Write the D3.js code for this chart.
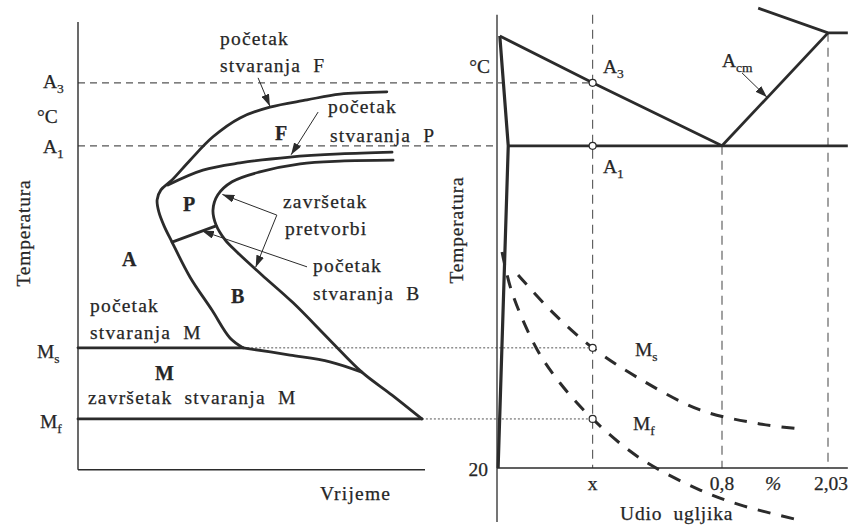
<!DOCTYPE html>
<html>
<head>
<meta charset="utf-8">
<script src="https://cdn.jsdelivr.net/npm/d3@7"></script>
<style>
  body { margin: 0; background: #fff; }
  svg text { font-family: "Liberation Serif", "Times New Roman", serif; fill: #262626; white-space: pre; stroke: #262626; stroke-width: 0.25; }
</style>
</head>
<body>
<div id="plot"><svg width="848" height="528"></svg></div>
<script>
// Critical temperatures (schematic temperature units 0-100) and carbon content of alloy x
const levelNames = ["A3", "A1", "Ms", "Mf"];
const levelTemps = [85.6, 71.6, 26.7, 10.9];
const alloyCarbon = 0.34;

// Left: TTT diagram, points as [time, temperature]
const startFerrite = [[89, 83.6], [75.5, 83.1], [66, 81.8], [55.3, 80.2], [46.7, 77.8], [38.9, 73.6],
  [32.3, 68.4], [27.1, 64], [23.9, 61.8], [22.8, 59.6], [23.3, 56.9], [24.8, 53.8], [27.1, 50.2],
  [32.3, 42.4], [38.6, 35.1], [43.8, 28.9], [47.6, 26.7]];
const startPearlite = [[25.9, 62.9], [36, 66.2], [46.7, 67.8], [61.1, 69.1], [75.5, 69.8], [90.5, 70.2]];
const endTransform = [[90.8, 68.4], [75.5, 68.2], [64, 67.6], [52.4, 65.8], [44.4, 63.6], [40.3, 60.7],
  [38.9, 57.3], [39.8, 54], [42.4, 50.7], [45.8, 48], [53, 42.9], [62, 36.7], [72.6, 28.4],
  [81.8, 21.3], [90.5, 16.2], [99.1, 10.9]];
const msBend = [[47.6, 26.7], [61.1, 25.1], [72.6, 23.6], [81.8, 21.3]];
const pearliteBainite = [[27.1, 50.2], [39.8, 53.8]];

// Right: Fe-C section, points as [carbon %, temperature]
const carbonTicks = [alloyCarbon, 0.8, 2.03];
const carbonTickLabels = ["x", "0,8", "2,03"];
const gsLine = [[0.01, 96], [0.04, 71.6], [0.004, 0]];
const a3Line = [[0.01, 96], [alloyCarbon, 85.6], [0.8, 71.6]];
const acmLine = [[0.8, 71.6], [2.03, 96.7]];
const eLine = [[1.22, 102.2], [2.03, 96.7], [2.26, 96.7]];
const a1Line = [[0.04, 71.6], [2.26, 71.6]];
const msCurve = [[0.075, 42.9], [0.196, 34.7], [alloyCarbon, 26.7], [0.508, 19.8], [0.722, 12.9], [1.24, 9.8], [1.70, 8.7]];
const mfCurve = [[0.018, 48], [0.053, 39.1], [0.142, 26.4], [0.224, 18.9], [alloyCarbon, 10.9], [0.508, 2.2],
  [0.722, -4.9], [1.01, -8.2], [1.70, -11.6]];

const timeScale = d3.scaleLinear().domain([0, 100]).range([78, 425]);
const tempScale = d3.scaleLinear().domain([0, 100]).range([468, 18]);
const carbonScale = d3.scaleLinear().domain([0, 0.8, 2.03]).range([497, 722, 828]);

const svg = d3.select("div#plot svg");
const ink = "#2b2b2b";

const defs = svg.append("defs");
defs.append("marker").attr("id", "head")
  .attr("viewBox", "0 0 12 8").attr("refX", 12).attr("refY", 4)
  .attr("markerWidth", 12).attr("markerHeight", 8)
  .attr("markerUnits", "userSpaceOnUse").attr("orient", "auto")
  .append("path").attr("d", "M0,0 L12,4 L0,8 z").attr("fill", ink);

const lineT = d3.line().x(d => timeScale(d[0])).y(d => tempScale(d[1]));
const curveT = d3.line().x(d => timeScale(d[0])).y(d => tempScale(d[1])).curve(d3.curveCatmullRom.alpha(0.5));
const lineC = d3.line().x(d => carbonScale(d[0])).y(d => tempScale(d[1]));
const curveC = d3.line().x(d => carbonScale(d[0])).y(d => tempScale(d[1])).curve(d3.curveCatmullRom.alpha(0.5));

// guide lines linking both panels
const tA3 = levelTemps[0], tA1 = levelTemps[1], tMs = levelTemps[2], tMf = levelTemps[3];
const guides = svg.append("g").attr("stroke", "#555").attr("fill", "none");
guides.append("line").attr("x1", timeScale(0)).attr("x2", carbonScale(alloyCarbon))
  .attr("y1", tempScale(tA3)).attr("y2", tempScale(tA3)).attr("stroke-dasharray", "7,5").attr("stroke-width", 1.2);
guides.append("line").attr("x1", timeScale(0)).attr("x2", carbonScale(0) - 3)
  .attr("y1", tempScale(tA1)).attr("y2", tempScale(tA1)).attr("stroke-dasharray", "7,5").attr("stroke-width", 1.2);
guides.append("line").attr("x1", timeScale(47.6)).attr("x2", carbonScale(alloyCarbon))
  .attr("y1", tempScale(tMs)).attr("y2", tempScale(tMs)).attr("stroke-dasharray", "2,2").attr("stroke-width", 1);
guides.append("line").attr("x1", timeScale(99.1)).attr("x2", carbonScale(alloyCarbon))
  .attr("y1", tempScale(tMf)).attr("y2", tempScale(tMf)).attr("stroke-dasharray", "2,2").attr("stroke-width", 1);

// vertical guides in the right panel
const vTops = [100.7, 71.6, 96.7];
carbonTicks.forEach((c, i) => {
  guides.append("line").attr("x1", carbonScale(c)).attr("x2", carbonScale(c))
    .attr("y1", tempScale(vTops[i])).attr("y2", tempScale(0))
    .attr("stroke-dasharray", "9,6").attr("stroke-width", 1.1);
});

// ---- left panel axes
const left = svg.append("g");
left.append("line").attr("x1", timeScale(0)).attr("x2", timeScale(0))
  .attr("y1", tempScale(99.1)).attr("y2", tempScale(-0.4)).attr("stroke", ink).attr("stroke-width", 1.4);
left.append("line").attr("x1", timeScale(0)).attr("x2", timeScale(100))
  .attr("y1", tempScale(-0.4)).attr("y2", tempScale(-0.4)).attr("stroke", ink).attr("stroke-width", 1.4);

const thick = left.append("g").attr("fill", "none").attr("stroke", ink).attr("stroke-width", 2.8).attr("stroke-linecap", "round");
thick.append("path").attr("d", curveT(startFerrite));
thick.append("path").attr("d", curveT(startPearlite));
thick.append("path").attr("d", curveT(endTransform));
thick.append("path").attr("d", curveT(msBend));
thick.append("path").attr("d", lineT(pearliteBainite));
thick.append("path").attr("d", lineT([[0, tMs], [47.6, tMs]]));
thick.append("path").attr("d", lineT([[0, tMf], [99.1, tMf]]));

// annotation arrows [from, to] in [time, temp]
const arrowsT = [
  [[51.9, 86.7], [55.3, 80.4]],
  [[69.2, 79.1], [61.4, 69.6]],
  [[57.3, 56.2], [41.6, 60.8]],
  [[57.3, 56.2], [51.2, 44.6]],
  [[66.0, 44.7], [35.7, 52.7]]
];
arrowsT.forEach(a => {
  left.append("line").attr("x1", timeScale(a[0][0])).attr("y1", tempScale(a[0][1]))
    .attr("x2", timeScale(a[1][0])).attr("y2", tempScale(a[1][1]))
    .attr("stroke", ink).attr("stroke-width", 1).attr("marker-end", "url(#head)");
});

function label(g, x, y, txt, opts = {}) {
  const t = g.append("text").attr("x", x).attr("y", y)
    .attr("font-size", opts.size || 19.5)
    .attr("letter-spacing", opts.ls != null ? opts.ls : 1.2)
    .attr("text-anchor", opts.anchor || "start");
  if (opts.bold) t.attr("font-weight", "bold");
  if (opts.sub) {
    t.append("tspan").text(txt);
    t.append("tspan").attr("font-size", 13.5).attr("dy", 5).attr("letter-spacing", 0).text(opts.sub);
  } else {
    t.text(txt);
  }
  return t;
}

label(left, 220, 45, "početak");
label(left, 220, 72, "stvaranja  F");
label(left, 275, 140, "F", { bold: true, size: 20 });
label(left, 328, 113, "početak");
label(left, 330, 142, "stvaranja  P");
label(left, 183, 211, "P", { bold: true, size: 20 });
label(left, 283, 208, "završetak");
label(left, 285, 235, "pretvorbi");
label(left, 313, 272, "početak");
label(left, 313, 300, "stvaranja  B");
label(left, 122, 266, "A", { bold: true, size: 20 });
label(left, 231, 303, "B", { bold: true, size: 20 });
label(left, 90, 312, "početak");
label(left, 90, 339, "stvaranja  M");
label(left, 155, 380, "M", { bold: true, size: 20 });
label(left, 88, 404, "završetak  stvaranja  M");
label(left, 320, 500, "Vrijeme");
label(left, 43, 88, "A", { sub: levelNames[0].slice(1), ls: 0 });
label(left, 37, 123, "°C", { ls: 0 });
label(left, 43, 153, "A", { sub: levelNames[1].slice(1), ls: 0 });
label(left, 37, 358, "M", { sub: levelNames[2].slice(1), ls: 0 });
label(left, 40, 428, "M", { sub: levelNames[3].slice(1), ls: 0 });
left.append("text").attr("transform", "translate(30,233) rotate(-90)")
  .attr("text-anchor", "middle").attr("font-size", 19.5).attr("letter-spacing", 0.8).text("Temperatura");

// ---- right panel
const right = svg.append("g");
right.append("line").attr("x1", carbonScale(0)).attr("x2", carbonScale(0))
  .attr("y1", tempScale(100.7)).attr("y2", tempScale(-12)).attr("stroke", ink).attr("stroke-width", 1.3);
right.append("line").attr("x1", carbonScale(0)).attr("x2", carbonScale(2.26))
  .attr("y1", tempScale(0)).attr("y2", tempScale(0)).attr("stroke", ink).attr("stroke-width", 1.3);

const rThick = right.append("g").attr("fill", "none").attr("stroke", ink).attr("stroke-width", 2.8);
rThick.append("path").attr("d", lineC(gsLine)).attr("stroke-width", 3.2);
rThick.append("path").attr("d", lineC(a3Line));
rThick.append("path").attr("d", lineC(acmLine));
rThick.append("path").attr("d", lineC(eLine));
rThick.append("path").attr("d", lineC(a1Line));

const rDash = right.append("g").attr("fill", "none").attr("stroke", ink).attr("stroke-width", 3).attr("stroke-dasharray", "13,11");
rDash.append("path").attr("d", curveC(msCurve));
rDash.append("path").attr("d", curveC(mfCurve));

right.append("line").attr("x1", carbonScale(1.032)).attr("y1", tempScale(87.8))
  .attr("x2", carbonScale(1.322)).attr("y2", tempScale(82.4))
  .attr("stroke", ink).attr("stroke-width", 1).attr("marker-end", "url(#head)");

right.selectAll("circle").data(levelTemps).join("circle")
  .attr("cx", carbonScale(alloyCarbon)).attr("cy", d => tempScale(d)).attr("r", 3.5)
  .attr("fill", "#fff").attr("stroke", ink).attr("stroke-width", 1.2);

label(right, 490, 73, "°C", { ls: 0, anchor: "end" });
label(right, 603, 73, "A", { sub: "3", ls: 0 });
label(right, 603, 173, "A", { sub: "1", ls: 0 });
label(right, 722, 67, "A", { sub: "cm", ls: 0 });
label(right, 635, 356, "M", { sub: "s", ls: 0 });
label(right, 633, 430, "M", { sub: "f", ls: 0 });
label(right, 488, 476, "20", { ls: 0, anchor: "end" });
carbonTicks.forEach((c, i) => {
  label(right, carbonScale(c) + (i === 2 ? 3 : 0), 490, carbonTickLabels[i], { ls: 0, anchor: "middle" });
});
label(right, 773, 490, "%", { ls: 0, anchor: "middle" }).attr("font-style", "italic");
label(right, 620, 520, "Udio  ugljika", { ls: 0.8 });
right.append("text").attr("transform", "translate(463,230) rotate(-90)")
  .attr("text-anchor", "middle").attr("font-size", 19.5).attr("letter-spacing", 0.8).text("Temperatura");
</script>
</body>
</html>
